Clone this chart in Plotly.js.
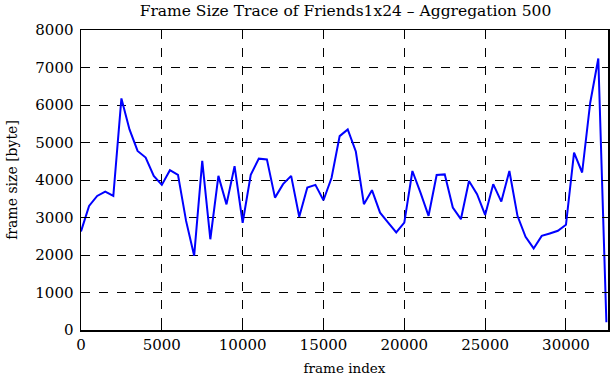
<!DOCTYPE html>
<html>
<head>
<meta charset="utf-8">
<script src="https://cdn.plot.ly/plotly-3.0.1.min.js"></script>
<style>html,body{margin:0;padding:0;background:#fff;}#chart{width:611px;height:380px;}</style>
</head>
<body>
<div id="chart"></div>
<script>
const frameIndex = [0,500,1000,1500,2000,2500,3000,3500,4000,4500,5000,5500,6000,6500,7000,7500,8000,8500,9000,9500,
  10000,10500,11000,11500,12000,12500,13000,13500,14000,14500,15000,15500,16000,16500,17000,17500,18000,18500,19000,19500,
  20000,20500,21000,21500,22000,22500,23000,23500,24000,24500,25000,25500,26000,26500,27000,27500,28000,28500,29000,29500,
  30000,30500,31000,31500,32000,32500];
const frameSize = [2630,3310,3575,3690,3575,6175,5350,4775,4600,4110,3870,4260,4135,2910,1980,4510,2420,4110,3350,4370,
  2860,4140,4570,4550,3530,3890,4110,3020,3800,3870,3460,4060,5170,5350,4760,3355,3730,3130,2865,2600,
  2865,4240,3665,3045,4135,4150,3265,2955,3975,3620,3070,3890,3425,4240,3045,2485,2175,2510,2575,2645,
  2805,4730,4200,6060,7240,205];
const xTicks = [0,5000,10000,15000,20000,25000,30000];
const yTicks = [0,1000,2000,3000,4000,5000,6000,7000,8000];
const titleText = "Frame Size Trace of Friends1x24 \u2013 Aggregation 500";

const fontFam = "DejaVu Serif, serif";
const axisCommon = {
  showline: true, linecolor: "#000", linewidth: 1.5, mirror: "ticks",
  ticks: "inside", ticklen: 6, tickcolor: "#000", tickwidth: 1,
  showgrid: true, gridcolor: "#000", griddash: "dash", gridwidth: 1,
  zeroline: false, tickfont: {family: fontFam, size: 15, color: "#000"}
};
Plotly.newPlot("chart", [{
  x: frameIndex, y: frameSize, type: "scatter", mode: "lines",
  line: {color: "#0000ff", width: 2}
}], {
  width: 611, height: 380,
  margin: {l: 81, r: 3, t: 30, b: 50},
  paper_bgcolor: "#fff", plot_bgcolor: "#fff",
  showlegend: false,
  title: {text: titleText, font: {family: fontFam, size: 15.5, color: "#000"}, x: 0.5655, xanchor: "center", y: 0.971, yanchor: "middle"},
  xaxis: Object.assign({}, axisCommon, {
    range: [0, 32600], tickvals: xTicks, ticktext: xTicks.map(String),
    title: {text: "frame index", font: {family: fontFam, size: 13.5, color: "#000"}, standoff: 11}
  }),
  yaxis: Object.assign({}, axisCommon, {
    range: [0, 8000], tickvals: yTicks, ticktext: yTicks.map(String), ticklabelstandoff: 3,
    title: {text: "frame size [byte]", font: {family: fontFam, size: 14, color: "#000"}, standoff: 14}
  })
}, {displayModeBar: false, staticPlot: true});
</script>
</body>
</html>
